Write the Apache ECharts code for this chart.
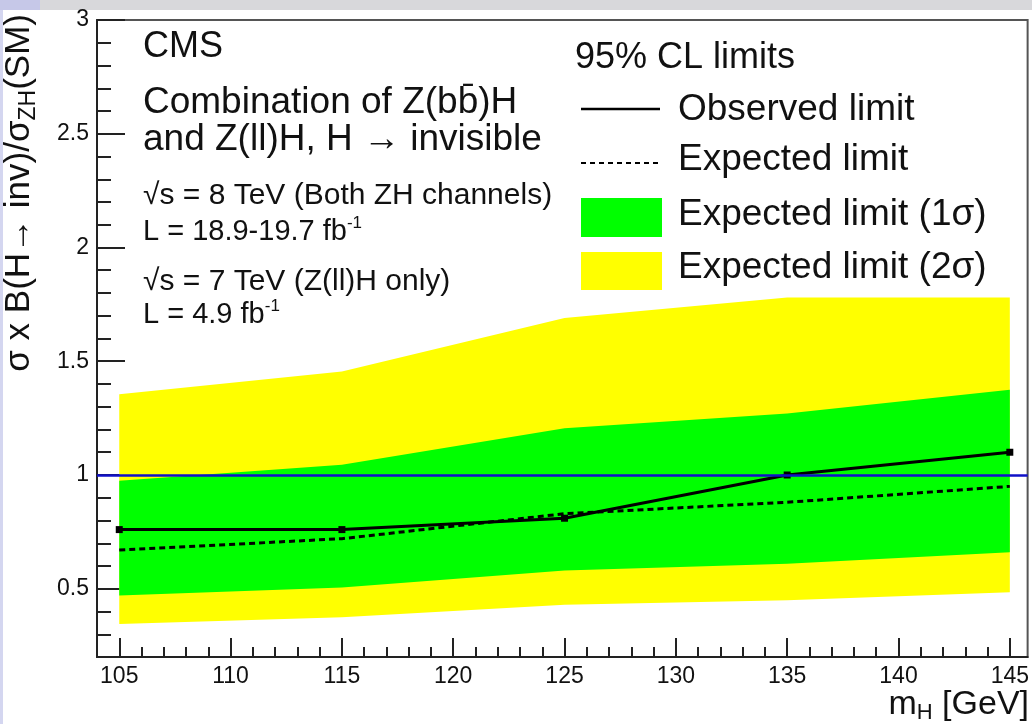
<!DOCTYPE html>
<html>
<head>
<meta charset="utf-8">
<script src="https://cdn.jsdelivr.net/npm/echarts@6/dist/echarts.min.js"></script>
<style>
  html, body { margin: 0; padding: 0; background: #ffffff; }
  #chart { width: 1032px; height: 724px; }
</style>
</head>
<body>
<div id="chart"></div>
<script>
// Higgs mass hypotheses (GeV)
const massPoints = [105, 115, 125, 135, 145];
// 95% CL limits on sigma x B(H -> inv) / sigma_ZH(SM)
const observedLimit = [0.76, 0.76, 0.81, 1.00, 1.10];
const expectedLimit = [0.67, 0.72, 0.83, 0.88, 0.95];
const oneSigmaLow  = [0.47, 0.505, 0.58, 0.61, 0.66];
const oneSigmaHigh = [0.975, 1.045, 1.205, 1.27, 1.375];
const twoSigmaLow  = [0.345, 0.375, 0.43, 0.45, 0.485];
const twoSigmaHigh = [1.355, 1.455, 1.69, 1.78, 1.78];
// Reference line: SM cross section
const smReference = 1;

// Axis tick labels
const xMajorTicks = [105, 110, 115, 120, 125, 130, 135, 140, 145];
const yMajorTicks = [0.5, 1, 1.5, 2, 2.5, 3];

// Minor ticks: every 1 GeV and every 0.1 in the ratio
const xMinorTicks = [];
for (let m = 105; m < 145; m++) if (m % 5 !== 0) xMinorTicks.push(m);
const yMinorTicks = [];
for (let t = 3; t < 30; t++) if (t % 5 !== 0) yMinorTicks.push(t / 10);

const FONT = '"Liberation Sans", Arial, Helvetica, sans-serif';
const INK = '#111111';

// A filled band between two limit curves, drawn as one polygon
function bandSeries(name, low, high, color) {
  return {
    type: 'custom',
    name: name,
    silent: true,
    data: massPoints.map((m, i) => [m, low[i], high[i]]),
    encode: { x: 0, y: [1, 2] },
    renderItem: function (params, api) {
      if (params.dataIndex !== 0) return null;
      const upper = massPoints.map((m, i) => api.coord([m, high[i]]));
      const lower = massPoints.map((m, i) => api.coord([m, low[i]])).reverse();
      return {
        type: 'polygon',
        shape: { points: upper.concat(lower) },
        style: { fill: color }
      };
    }
  };
}

function text(x, y, str, size, extra) {
  return {
    type: 'text', x: x, y: y, z: 10,
    style: Object.assign({
      text: str, fill: INK, font: size + 'px ' + FONT,
      align: 'left', verticalAlign: 'middle'
    }, extra || {})
  };
}

// Rich text with a raised "-1" exponent
function lumiText(x, y, str) {
  return {
    type: 'text', x: x, y: y, z: 10,
    style: {
      text: '{n|' + str + '}{s|-1}',
      fill: INK, align: 'left', verticalAlign: 'middle',
      rich: {
        n: { fontSize: 29, fontFamily: FONT, lineHeight: 34, fill: INK },
        s: { fontSize: 17, fontFamily: FONT, lineHeight: 17, verticalAlign: 'top', fill: INK }
      }
    }
  };
}

const chart = echarts.init(document.getElementById('chart'), null, { renderer: 'canvas' });

const tickStyle = { color: '#222222', width: 2 };

chart.setOption({
  animation: false,
  backgroundColor: '#ffffff',
  grid: {
    left: 97, right: 3, top: 20, bottom: 67,
    show: true, borderColor: '#555555', borderWidth: 2, backgroundColor: 'transparent'
  },
  xAxis: [
    {
      type: 'value', min: 104, max: 145.8, position: 'bottom',
      axisLine: { show: true, onZero: false, lineStyle: { color: '#222222', width: 2 } },
      axisTick: { show: true, inside: true, length: 19, customValues: xMajorTicks, lineStyle: tickStyle },
      axisLabel: { show: true, customValues: xMajorTicks, fontSize: 23, fontFamily: FONT, color: INK, margin: 8 },
      splitLine: { show: false }
    },
    {
      type: 'value', min: 104, max: 145.8, position: 'bottom',
      axisLine: { show: false },
      axisTick: { show: true, inside: true, length: 10, customValues: xMinorTicks, lineStyle: tickStyle },
      axisLabel: { show: false },
      splitLine: { show: false }
    }
  ],
  yAxis: [
    {
      type: 'value', min: 0.2, max: 3, position: 'left',
      axisLine: { show: true, onZero: false, lineStyle: { color: '#222222', width: 2 } },
      axisTick: { show: true, inside: true, length: 28, customValues: yMajorTicks, lineStyle: tickStyle },
      axisLabel: { show: true, customValues: yMajorTicks, fontSize: 23, fontFamily: FONT, color: INK, margin: 8 },
      splitLine: { show: false }
    },
    {
      type: 'value', min: 0.2, max: 3, position: 'left',
      axisLine: { show: false },
      axisTick: { show: true, inside: true, length: 14, customValues: yMinorTicks, lineStyle: tickStyle },
      axisLabel: { show: false },
      splitLine: { show: false }
    }
  ],
  series: [
    bandSeries('Expected limit (2σ)', twoSigmaLow, twoSigmaHigh, '#ffff00'),
    bandSeries('Expected limit (1σ)', oneSigmaLow, oneSigmaHigh, '#00ff00'),
    {
      type: 'line',
      name: 'Expected limit',
      data: massPoints.map((m, i) => [m, expectedLimit[i]]),
      showSymbol: false,
      lineStyle: { color: '#000000', width: 3, type: [6, 4] },
      silent: true,
      markLine: {
        silent: true,
        symbol: ['none', 'none'],
        label: { show: false },
        lineStyle: { color: '#1010c8', width: 2.5, type: 'solid' },
        data: [{ yAxis: smReference }]
      }
    },
    {
      type: 'line',
      name: 'Observed limit',
      data: massPoints.map((m, i) => [m, observedLimit[i]]),
      symbol: 'rect',
      symbolSize: 7,
      itemStyle: { color: '#000000' },
      lineStyle: { color: '#000000', width: 3 },
      silent: true
    }
  ],
  graphic: [
    // page edges
    { type: 'rect', z: -1, shape: { x: 0, y: 0, width: 1032, height: 10 }, style: { fill: '#d8d8db' } },
    { type: 'rect', z: -1, shape: { x: 0, y: 0, width: 40, height: 10 }, style: { fill: '#c6c8e8' } },
    { type: 'rect', z: -1, shape: { x: 0, y: 10, width: 3, height: 714 }, style: { fill: '#d4d6f0' } },

    // axis titles
    {
      type: 'text', x: 19, y: 14, rotation: Math.PI / 2, z: 10,
      style: {
        text: '{m|σ x B(H→ inv)/σ}{s|ZH}{m|(SM)}',
        fill: INK, align: 'right', verticalAlign: 'middle',
        rich: {
          m: { fontSize: 35, fontFamily: FONT, lineHeight: 42, fill: INK },
          s: { fontSize: 23, fontFamily: FONT, lineHeight: 23, verticalAlign: 'bottom', fill: INK }
        }
      }
    },
    {
      type: 'text', x: 1029, y: 705, z: 10,
      style: {
        text: '{m|m}{s|H}{m| [GeV]}',
        fill: INK, align: 'right', verticalAlign: 'middle',
        rich: {
          m: { fontSize: 34, fontFamily: FONT, lineHeight: 38, fill: INK },
          s: { fontSize: 22, fontFamily: FONT, lineHeight: 22, verticalAlign: 'bottom', fill: INK }
        }
      }
    },

    // analysis description
    text(143, 47, 'CMS', 36),
    text(143, 103, 'Combination of Z(bb\u0304)H', 37),
    text(143, 140, 'and Z(ll)H, H → invisible', 37),
    text(143, 196, '√s = 8 TeV (Both ZH channels)', 30),
    lumiText(143, 232, 'L = 18.9-19.7 fb'),
    text(143, 282, '√s = 7 TeV (Z(ll)H only)', 30),
    lumiText(143, 315, 'L = 4.9 fb'),

    // legend
    text(575, 58, '95% CL limits', 36),
    { type: 'line', z: 10, shape: { x1: 581, y1: 109, x2: 660, y2: 109 }, style: { stroke: '#000', lineWidth: 2.5 } },
    text(678, 110, 'Observed limit', 37),
    { type: 'line', z: 10, shape: { x1: 581, y1: 163, x2: 660, y2: 163 }, style: { stroke: '#000', lineWidth: 2, lineDash: [5, 4] } },
    text(678, 160, 'Expected limit', 37),
    { type: 'rect', z: 10, shape: { x: 581, y: 198, width: 81, height: 39 }, style: { fill: '#00ff00' } },
    text(678, 215, 'Expected limit (1σ)', 37),
    { type: 'rect', z: 10, shape: { x: 581, y: 252, width: 81, height: 38 }, style: { fill: '#ffff00' } },
    text(678, 268, 'Expected limit (2σ)', 37)
  ]
});
</script>
</body>
</html>
